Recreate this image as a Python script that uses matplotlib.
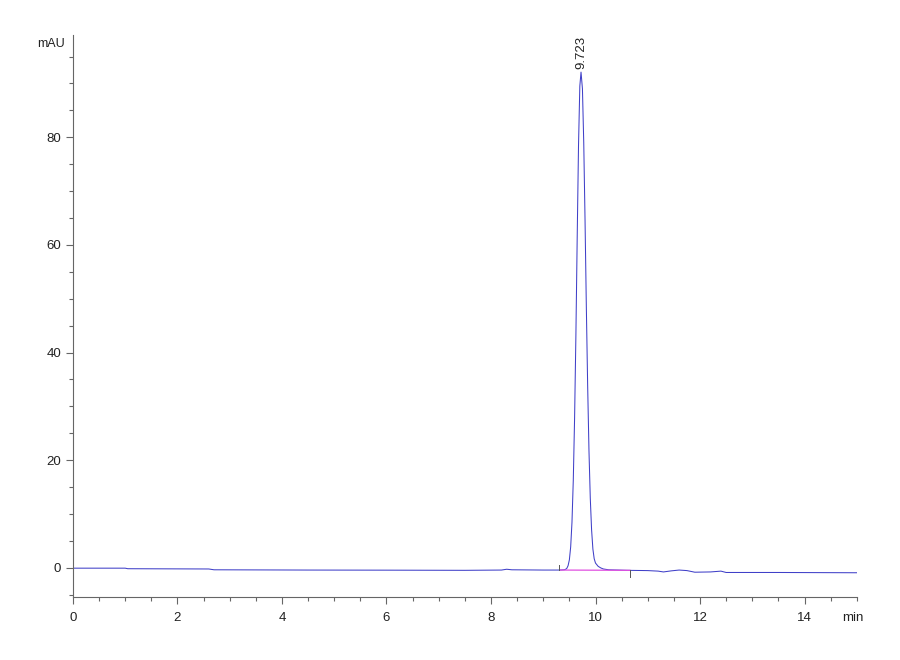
"""HPLC chromatogram: single main peak at 9.723 min."""

import matplotlib.pyplot as plt
from matplotlib.ticker import MultipleLocator

# retention time (min) and detector signal (mAU)
trace_time = [
    0.0, 1.0, 1.05, 2.6, 2.7, 4.5, 6.0, 7.5, 8.2, 8.3, 8.4, 9.0, 9.3, 9.35,
    9.4, 9.425, 9.45, 9.475, 9.5, 9.525, 9.55, 9.575, 9.6, 9.625, 9.65,
    9.675, 9.7, 9.723, 9.75, 9.775, 9.8, 9.825, 9.85, 9.875, 9.9, 9.925,
    9.95, 9.975, 10.0, 10.05, 10.1, 10.15, 10.25, 10.6, 11.0, 11.2, 11.3,
    11.45, 11.6, 11.75, 11.9, 12.2, 12.4, 12.5, 13.5, 15.0,
]
trace_signal = [
    -0.05, -0.05, -0.15, -0.2, -0.35, -0.4, -0.42, -0.45, -0.4, -0.25,
    -0.35, -0.4, -0.4, -0.38, -0.35, -0.27, -0.1, 0.4, 1.5, 3.9, 8.5,
    16.3, 27.9, 43.3, 61.5, 78.5, 89.5, 92.1, 89.0, 79.0, 64.5, 48.3,
    33.8, 21.8, 13.0, 7.1, 3.5, 1.7, 0.9, 0.3, 0.0, -0.2, -0.35, -0.45,
    -0.5, -0.6, -0.75, -0.55, -0.4, -0.5, -0.8, -0.75, -0.6, -0.85,
    -0.85, -0.9,
]

# integration baseline and event markers
peak_rt = 9.723
int_start = (9.33, -0.4)
int_end = (10.66, -0.45)
event_marks = [(9.3, -0.4, 0.6), (10.66, -0.4, -1.6)]

plt.rcParams["font.family"] = ["Liberation Sans", "DejaVu Sans"]

fig = plt.figure(figsize=(9, 6.6), dpi=100)
ax = fig.add_axes([0.081, 0.0955, 0.871, 0.8515])

ax.plot(trace_time, trace_signal, color="#4040c8", linewidth=0.75)
ax.plot([int_start[0], int_end[0]], [int_start[1], int_end[1]],
        color="#e050e0", linewidth=0.9)
for t, y0, y1 in event_marks:
    ax.plot([t, t], [y0, y1], color="#555555", linewidth=0.7)

ax.text(peak_rt, max(trace_signal) + 0.5, f"{peak_rt:.3f}", rotation=90,
        ha="center", va="bottom", fontsize=9.5, color="#222222")

ax.set_xlim(0, 15)
ax.set_ylim(-5.4, 99)
ax.xaxis.set_major_locator(MultipleLocator(2))
ax.xaxis.set_minor_locator(MultipleLocator(0.5))
ax.yaxis.set_major_locator(MultipleLocator(20))
ax.yaxis.set_minor_locator(MultipleLocator(5))

for side in ("top", "right"):
    ax.spines[side].set_visible(False)
for side in ("left", "bottom"):
    ax.spines[side].set_color("#666666")
    ax.spines[side].set_linewidth(0.8)

ax.tick_params(which="major", length=5, width=0.8, color="#666666",
               labelsize=9.5, labelcolor="#222222")
ax.tick_params(axis="x", which="major", pad=6)
ax.tick_params(which="minor", length=3, width=0.8, color="#666666")

fig.text(0.072, 0.934, "mAU", ha="right", va="center", fontsize=9,
         color="#222222")
ax.text(14.92, -0.027, "min", transform=ax.get_xaxis_transform(),
        ha="center", va="top", fontsize=9.5, color="#222222")

fig.savefig("out.png", dpi=100)
